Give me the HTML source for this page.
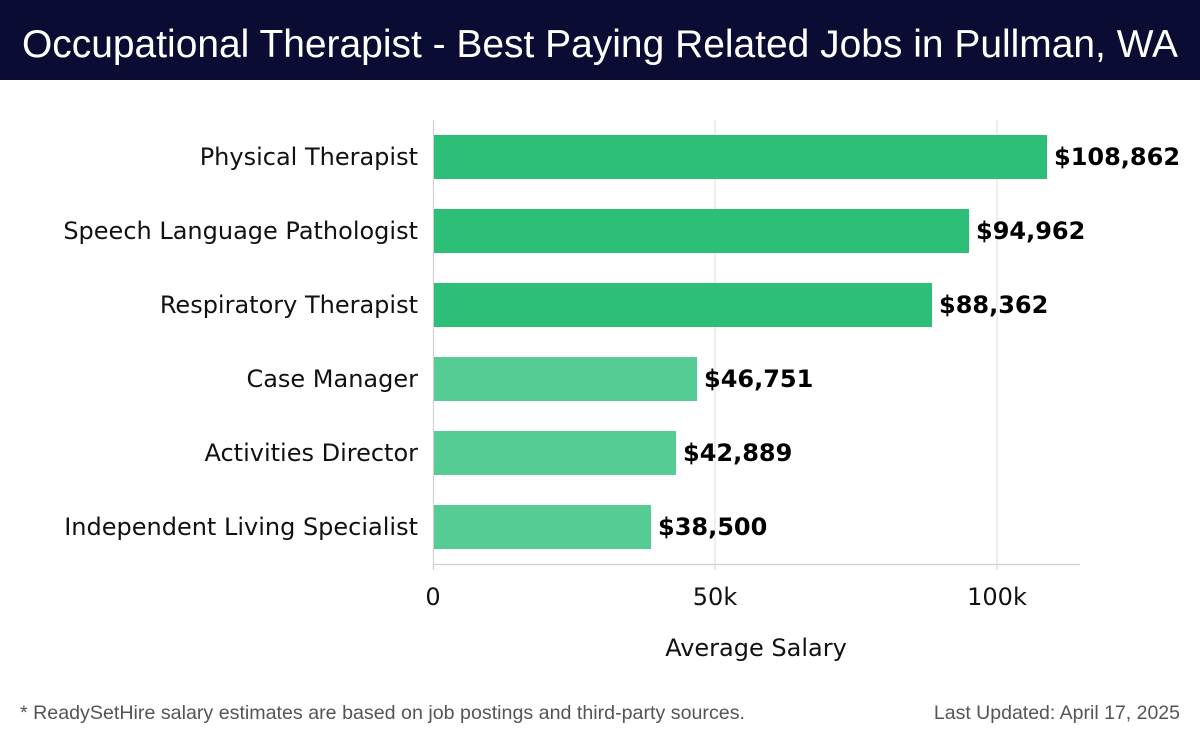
<!DOCTYPE html>
<html><head><meta charset="utf-8"><style>
body{margin:0;width:1200px;height:740px;background:#fff;overflow:hidden;font-family:"DejaVu Sans","Liberation Sans",sans-serif}
</style></head><body>
<svg width="1200" height="740" xmlns="http://www.w3.org/2000/svg">
<rect x="0" y="0" width="1200" height="80" fill="#0b0c33"/>
<text x="22" y="57" textLength="1156" lengthAdjust="spacingAndGlyphs" fill="#fff" font-family="Liberation Sans, sans-serif" font-size="39" font-weight="300">Occupational Therapist - Best Paying Related Jobs in Pullman, WA</text>
<g stroke="#e3e3e3" stroke-width="1.2">
<line x1="715" y1="120" x2="715" y2="564"/>
<line x1="997" y1="120" x2="997" y2="564"/>
</g>
<line x1="433.5" y1="120" x2="433.5" y2="570" stroke="#d0d0d0" stroke-width="1.2"/>
<line x1="433" y1="564.5" x2="1080" y2="564.5" stroke="#d0d0d0" stroke-width="1.2"/>
<line x1="715" y1="564" x2="715" y2="570" stroke="#d0d0d0"/>
<line x1="997" y1="564" x2="997" y2="570" stroke="#d0d0d0"/>
<g>
<rect x="434" y="135" width="613" height="44" fill="#2dbe78"/>
<rect x="434" y="209" width="535" height="44" fill="#2dbe78"/>
<rect x="434" y="283" width="498" height="44" fill="#2dbe78"/>
<rect x="434" y="357" width="263" height="44" fill="#55cc94"/>
<rect x="434" y="431" width="242" height="44" fill="#55cc94"/>
<rect x="434" y="505" width="217" height="44" fill="#55cc94"/>
</g>
<g font-size="24" fill="#111" text-anchor="end">
<text x="418" y="165">Physical Therapist</text>
<text x="418" y="239">Speech Language Pathologist</text>
<text x="418" y="313">Respiratory Therapist</text>
<text x="418" y="387">Case Manager</text>
<text x="418" y="461">Activities Director</text>
<text x="418" y="535">Independent Living Specialist</text>
</g>
<g font-size="24" font-weight="bold" fill="#000">
<text x="1054" y="165">$108,862</text>
<text x="976" y="239">$94,962</text>
<text x="939" y="313">$88,362</text>
<text x="704" y="387">$46,751</text>
<text x="683" y="461">$42,889</text>
<text x="658" y="535">$38,500</text>
</g>
<g font-size="24" fill="#111" text-anchor="middle">
<text x="433" y="605">0</text>
<text x="715" y="605">50k</text>
<text x="997" y="605">100k</text>
<text x="756" y="656">Average Salary</text>
</g>
<g font-family="Liberation Sans, sans-serif" font-size="19.5" fill="#555">
<text x="20" y="719" textLength="725" lengthAdjust="spacingAndGlyphs">* ReadySetHire salary estimates are based on job postings and third-party sources.</text>
<text x="1180" y="719" text-anchor="end">Last Updated: April 17, 2025</text>
</g>
</svg>
</body></html>
